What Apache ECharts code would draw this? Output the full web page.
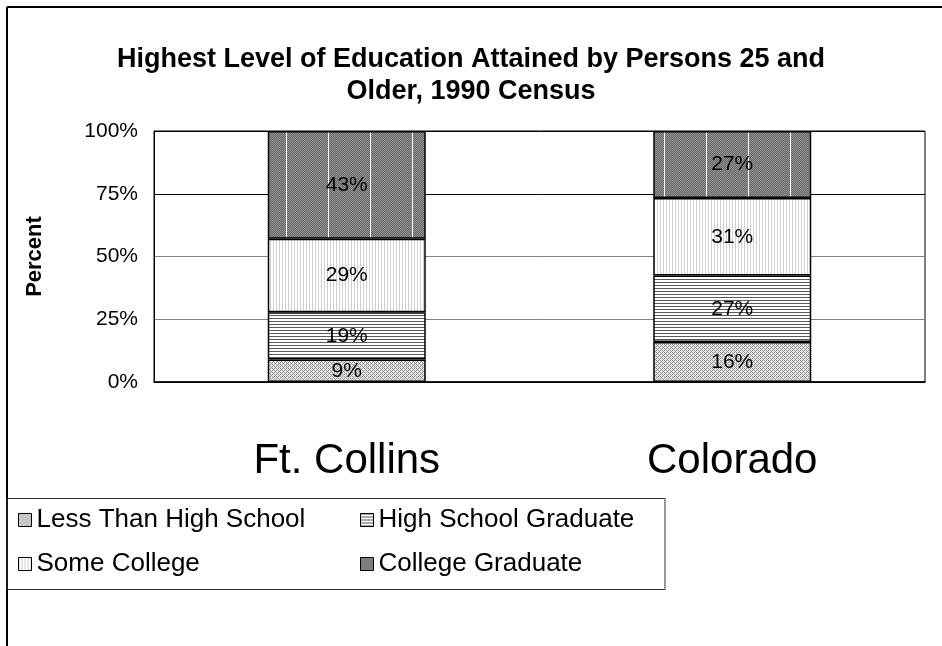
<!DOCTYPE html>
<html>
<head>
<meta charset="utf-8">
<script src="https://cdn.jsdelivr.net/npm/echarts@6/dist/echarts.min.js"></script>
<style>
  html, body { margin: 0; padding: 0; background: #fff; }
  #chart { width: 942px; height: 646px; }
</style>
</head>
<body>
<div id="chart"></div>
<script>
  // values (percent of persons 25+)
  var categories = ['Ft. Collins', 'Colorado'];
  var seriesNames = ['Less Than High School', 'High School Graduate', 'Some College', 'College Graduate'];
  var lessThanHS = [9.0, 15.9];
  var hsGraduate = [18.8, 26.5];
  var someCollege = [29.3, 30.9];
  var collegeGraduate = [42.9, 26.7];
  var yTicks = [0, 25, 50, 75, 100];

  // little canvas tiles for the hatch fills
  function tile(w, h, draw) {
    var c = document.createElement('canvas');
    c.width = w; c.height = h;
    draw(c.getContext('2d'));
    return { image: c, repeat: 'repeat' };
  }
  var fillLess = tile(4, 4, function (g) {
    g.fillStyle = '#e4e4e4'; g.fillRect(0, 0, 4, 4);
    g.fillStyle = '#9a9a9a';
    g.fillRect(0, 0, 1, 1); g.fillRect(1, 1, 1, 1); g.fillRect(2, 0, 1, 1);
    g.fillRect(2, 2, 1, 1); g.fillRect(3, 3, 1, 1); g.fillRect(0, 2, 1, 1);
  });
  var fillHS = tile(4, 3, function (g) {
    g.fillStyle = '#fff'; g.fillRect(0, 0, 4, 3);
    g.fillStyle = '#5a5a5a'; g.fillRect(0, 0, 4, 1);
  });
  var fillSome = tile(3, 4, function (g) {
    g.fillStyle = '#fff'; g.fillRect(0, 0, 3, 4);
    g.fillStyle = '#cfcfcf'; g.fillRect(0, 0, 1, 4);
  });
  var fillCollege = tile(42, 2, function (g) {
    for (var x = 0; x < 42; x++) {
      for (var y = 0; y < 2; y++) {
        g.fillStyle = ((x + y) % 2) ? '#6c6c6c' : '#8e8e8e';
        g.fillRect(x, y, 1, 1);
      }
    }
    g.fillStyle = '#fff'; g.fillRect(34, 0, 1, 2);
  });

  var fills = [fillLess, fillHS, fillSome, fillCollege];
  var values = [lessThanHS, hsGraduate, someCollege, collegeGraduate];

  var series = seriesNames.map(function (name, i) {
    return {
      name: name,
      type: 'bar',
      stack: 'edu',
      barWidth: 158,
      data: values[i],
      itemStyle: { color: fills[i], borderColor: '#000', borderWidth: 1.5 },
      label: {
        show: true,
        position: 'inside',
        color: '#000',
        fontSize: 21,
        fontFamily: 'Liberation Sans',
        formatter: function (p) { return Math.round(p.value) + '%'; }
      }
    };
  });

  var chart = echarts.init(document.getElementById('chart'));
  var legendText = { color: '#000', fontSize: 26, fontFamily: 'Liberation Sans' };
  chart.setOption({
    animation: false,
    backgroundColor: '#fff',
    title: {
      text: 'Highest Level of Education Attained by Persons 25 and\nOlder, 1990 Census',
      left: 'center',
      top: 44,
      padding: 0,
      textStyle: { color: '#000', fontSize: 27, fontWeight: 'bold', fontFamily: 'Liberation Sans', lineHeight: 32 }
    },
    legend: [
      {
        data: [seriesNames[0], seriesNames[2]],
        orient: 'vertical', left: 18, top: 507, itemGap: 18,
        icon: 'rect', itemWidth: 13, itemHeight: 13, itemStyle: { borderColor: '#000', borderWidth: 1 },
        textStyle: legendText, padding: 0
      },
      {
        data: [seriesNames[1], seriesNames[3]],
        orient: 'vertical', left: 360, top: 507, itemGap: 18,
        icon: 'rect', itemWidth: 13, itemHeight: 13, itemStyle: { borderColor: '#000', borderWidth: 1 },
        textStyle: legendText, padding: 0
      }
    ],
    grid: {
      left: 154, right: 17, top: 131, bottom: 264,
      show: true, borderColor: '#000', borderWidth: 1
    },
    xAxis: {
      type: 'category',
      data: categories,
      axisTick: { show: false },
      axisLine: { lineStyle: { color: '#000', width: 1.5 } },
      axisLabel: { color: '#000', fontSize: 42, fontFamily: 'Liberation Sans', margin: 58 }
    },
    yAxis: {
      type: 'value',
      min: yTicks[0], max: yTicks[yTicks.length - 1], interval: 25,
      name: 'Percent',
      nameLocation: 'middle',
      nameRotate: 90,
      nameGap: 108,
      nameTextStyle: { color: '#000', fontSize: 22, fontWeight: 'bold', fontFamily: 'Liberation Sans' },
      axisLine: { show: true, lineStyle: { color: '#000' } },
      axisTick: { show: false },
      axisLabel: { color: '#000', fontSize: 21, fontFamily: 'Liberation Sans', margin: 16, formatter: '{value}%' },
      splitLine: { lineStyle: { color: ['#000', '#808080', '#808080', '#000', '#000'], width: 1 } }
    },
    graphic: [
      { type: 'line', shape: { x1: 7, y1: 7, x2: 942, y2: 7 }, style: { stroke: '#000', lineWidth: 2 } },
      { type: 'line', shape: { x1: 7, y1: 7, x2: 7, y2: 646 }, style: { stroke: '#000', lineWidth: 2 } },
      { type: 'rect', shape: { x: 7, y: 498.5, width: 658, height: 91 }, style: { fill: 'none', stroke: '#333', lineWidth: 1 } }
    ],
    series: series
  });
</script>
</body>
</html>
